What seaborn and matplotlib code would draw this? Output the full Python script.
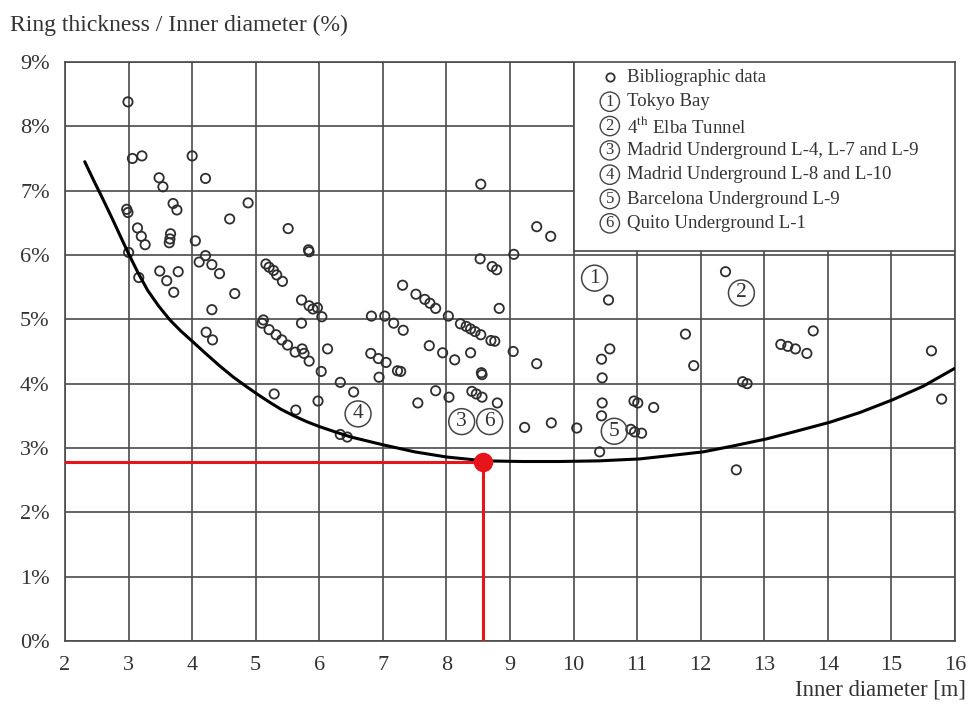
import pandas as pd
import seaborn as sns
import matplotlib.pyplot as plt
from matplotlib.patches import Rectangle

# Bibliographic data points: inner diameter [m], ratio [%]
diam = [2.99, 3.06, 3.21, 4.00, 3.48, 3.54, 4.21, 3.70, 3.76, 4.88, 2.97, 2.99,
        4.59, 3.14, 3.20, 3.26, 3.66, 3.65, 3.64, 4.05, 5.51, 3.00, 4.21, 4.11,
        4.31, 4.43, 5.83, 5.84, 3.49, 3.78, 3.60, 3.16, 3.71, 4.67,
        5.16, 5.21, 5.28, 5.33, 5.42, 4.31, 4.22, 4.32,
        5.72, 5.84, 5.90, 5.97, 6.04,
        8.54, 9.42, 9.64, 8.53, 9.06, 8.72, 8.79,
        5.10, 5.12, 5.21, 5.32, 5.41, 5.50, 5.62, 5.73, 5.76, 5.84,
        5.72, 6.13, 6.03, 5.29, 5.63, 5.98, 6.33, 6.54, 6.33, 6.44,
        6.82, 7.03, 7.17, 7.32, 7.31, 7.52, 7.66, 7.74, 7.83,
        6.81, 6.93, 7.05, 7.23, 7.28, 6.94, 7.73, 7.94, 8.13, 8.38, 8.03,
        8.22, 8.31, 8.38, 8.45, 8.54, 8.70, 8.76, 8.83, 9.05, 9.42,
        8.55, 8.56, 7.83, 7.55, 8.04, 8.40, 8.47, 8.56, 8.80, 9.23,
        10.55, 11.76, 11.89, 10.57, 10.44, 10.45, 10.45, 10.44, 10.41,
        10.95, 11.01, 11.26, 10.90, 10.96, 11.07, 9.65, 10.05,
        12.39, 13.26, 13.37, 13.49, 13.67, 13.77, 12.66, 12.73, 12.56,
        15.63, 15.79]
ratio = [8.38, 7.50, 7.54, 7.54, 7.20, 7.06, 7.19, 6.80, 6.70, 6.81, 6.71, 6.66,
         6.56, 6.42, 6.29, 6.16, 6.33, 6.25, 6.19, 6.22, 6.41, 6.04, 5.99, 5.89,
         5.85, 5.71, 6.08, 6.05, 5.75, 5.74, 5.60, 5.65, 5.42, 5.40,
         5.86, 5.81, 5.76, 5.69, 5.59, 5.15, 4.80, 4.68,
         5.30, 5.21, 5.16, 5.18, 5.04,
         7.10, 6.44, 6.29, 5.94, 6.01, 5.82, 5.77,
         4.94, 4.99, 4.84, 4.76, 4.68, 4.60, 4.49, 4.54, 4.47, 4.35,
         4.94, 4.54, 4.19, 3.84, 3.59, 3.73, 4.02, 3.87, 3.21, 3.17,
         5.05, 5.05, 4.94, 4.83, 5.53, 5.39, 5.31, 5.25, 5.17,
         4.47, 4.39, 4.33, 4.20, 4.19, 4.10, 4.59, 4.48, 4.37, 4.48, 5.05,
         4.93, 4.89, 4.85, 4.81, 4.76, 4.67, 4.66, 5.17, 4.50, 4.31,
         4.17, 4.14, 3.89, 3.70, 3.79, 3.88, 3.84, 3.79, 3.70, 3.32,
         5.30, 4.77, 4.28, 4.54, 4.38, 4.09, 3.70, 3.50, 2.94,
         3.73, 3.70, 3.63, 3.29, 3.25, 3.23, 3.39, 3.31,
         5.74, 4.61, 4.58, 4.54, 4.47, 4.82, 4.03, 4.00, 2.66,
         4.51, 3.76]

# Design curve
curve_x = [2.31, 2.45, 2.60, 2.75, 2.90, 3.00, 3.15, 3.30, 3.47, 3.65, 3.82, 4.0,
           4.2, 4.44, 4.65, 4.86, 5.05, 5.22, 5.4, 5.6, 5.8, 6.01, 6.25, 6.5,
           6.75, 7.0, 7.5, 8.0, 8.6, 9.2, 9.78, 10.4, 11.04, 11.5, 12.04, 12.5,
           13.03, 13.5, 14.03, 14.5, 15.02, 15.5, 16.0]
curve_y = [7.45, 7.16, 6.86, 6.55, 6.23, 6.02, 5.72, 5.45, 5.21, 4.99, 4.82, 4.66,
           4.48, 4.27, 4.10, 3.95, 3.82, 3.71, 3.60, 3.50, 3.41, 3.33, 3.25, 3.17,
           3.11, 3.05, 2.94, 2.86, 2.80, 2.79, 2.79, 2.80, 2.83, 2.88, 2.94, 3.03,
           3.14, 3.26, 3.40, 3.55, 3.75, 3.96, 4.24]

# Selected design point
sel_x = 8.57
sel_y = 2.79

# Circled case labels placed in the plot
case_ids = ["1", "2", "3", "4", "5", "6"]
case_x = [10.33, 12.64, 8.24, 6.61, 10.64, 8.68]
case_y = [5.64, 5.41, 3.41, 3.53, 3.26, 3.41]

legend_labels = ["Tokyo Bay", r"4$^{\mathrm{th}}$ Elba Tunnel",
                 "Madrid Underground L-4, L-7 and L-9",
                 "Madrid Underground L-8 and L-10",
                 "Barcelona Underground L-9", "Quito Underground L-1"]

x_ticks = list(range(2, 17))
y_ticks = list(range(0, 10))

sns.set_style("white")
plt.rcParams['font.family'] = ['Liberation Serif', 'DejaVu Serif']
plt.rcParams['mathtext.fontset'] = 'stix'

grid_col = '#4a4a4a'
text_col = '#333333'

fig = plt.figure(figsize=(9.72, 7.09), dpi=100)
ax = fig.add_axes([0.0669, 0.0959, 0.9156, 0.8167])

df_pts = pd.DataFrame({"diam": diam, "ratio": ratio})
sns.scatterplot(data=df_pts, x="diam", y="ratio", ax=ax, marker='o', s=45,
                facecolor='none', edgecolor='#2e2e2e', linewidth=1.3, zorder=3)

df_curve = pd.DataFrame({"x": curve_x, "y": curve_y})
sns.lineplot(data=df_curve, x="x", y="y", ax=ax, sort=False, color='black',
             linewidth=2.2, zorder=4)

# Red marker for the chosen design
ax.plot([x_ticks[0], sel_x], [sel_y, sel_y], color='#e8141b', lw=2.2, zorder=5)
ax.plot([sel_x, sel_x], [sel_y, y_ticks[0]], color='#e8141b', lw=2.2, zorder=5)
ax.plot([sel_x], [sel_y], 'o', color='#e8141b', markersize=13, zorder=6)

for cid, cx, cy in zip(case_ids, case_x, case_y):
    ax.text(cx, cy, cid, fontsize=15.5, ha='center', va='center', color=text_col,
            bbox=dict(boxstyle='circle,pad=0.16', fc='none', ec='#444444', lw=1.1),
            zorder=5)

ax.set_xlim(x_ticks[0], x_ticks[-1])
ax.set_ylim(y_ticks[0], y_ticks[-1])
ax.set_xticks(x_ticks)
ax.set_yticks(y_ticks)
ax.set_yticklabels([f"{v}%" for v in y_ticks])
ax.set_xlabel("")
ax.set_ylabel("")
ax.grid(True, color=grid_col, linewidth=1.2)
ax.set_axisbelow(True)
for spine in ax.spines.values():
    spine.set_visible(True)
    spine.set_color(grid_col)
    spine.set_linewidth(1.2)
ax.tick_params(axis='both', direction='out', length=6, width=1.2, colors=grid_col,
               labelcolor=text_col, labelsize=16)
ax.tick_params(axis='x', pad=5)
ax.tick_params(axis='y', pad=5)

# Legend box (upper right)
ax.add_patch(Rectangle((10, 6.06), 6, 2.94, fc='white', ec=grid_col, lw=1.2, zorder=7))
row_y0 = 8.76
row_step = 0.378
ax.plot([10.57], [row_y0], 'o', mfc='none', mec=text_col, mew=1.3, markersize=6,
        zorder=8)
ax.text(10.84, row_y0, "Bibliographic data", fontsize=13.5, va='center', ha='left',
        color=text_col, zorder=8)
for i, (cid, lab) in enumerate(zip(case_ids, legend_labels)):
    yy = row_y0 - (i + 1) * row_step
    ax.text(10.57, yy, cid, fontsize=12, ha='center', va='center', color=text_col,
            bbox=dict(boxstyle='circle,pad=0.1', fc='none', ec='#444444', lw=1.0),
            zorder=8)
    ax.text(10.84, yy, lab, fontsize=13.5, va='center', ha='left', color=text_col,
            zorder=8)

fig.text(10 / 972, 1 - 25 / 709, "Ring thickness / Inner diameter (%)", fontsize=17,
         ha='left', va='center', color=text_col)
fig.text(966 / 972, 1 - 690 / 709, "Inner diameter [m]", fontsize=16.3,
         ha='right', va='center', color=text_col)

fig.savefig("out.png", dpi=100)
